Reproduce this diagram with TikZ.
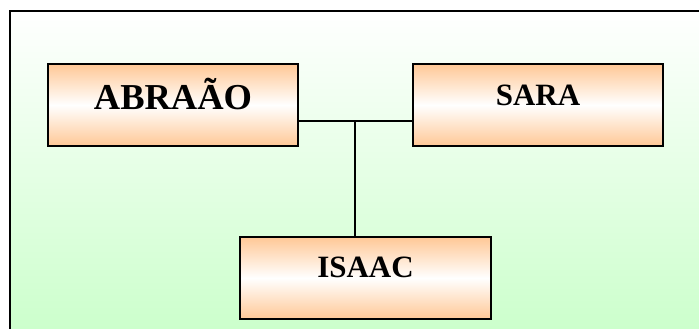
\documentclass[tikz,border=0pt]{standalone}
\usepackage{fontspec}
\setmainfont{Liberation Serif}
\definecolor{boxorange}{RGB}{255,200,150}
\definecolor{bggreen}{RGB}{204,255,204}
\tikzset{
  person/.style={draw=black, line width=1.5pt, minimum width=250pt, minimum height=82pt,
    inner sep=0pt, top color=boxorange, bottom color=boxorange, middle color=white,
    font=\bfseries, text=black},
  link/.style={draw=black, line width=1.3pt}
}
\begin{document}
\begin{tikzpicture}[x=1pt,y=1pt]
\useasboundingbox (0,0) rectangle (699,329);
\clip (0,0) rectangle (699,329);
\fill[white] (0,0) rectangle (699,329);
\fill[top color=white, bottom color=bggreen] (10,0) rectangle (720,318);
\draw[line width=1.7pt] (720,318) -- (10,318) -- (10,-20);
\node[person, font=\fontsize{36.5}{40}\bfseries] (abraao) at (173,224) {\raisebox{-5pt}[0pt][0pt]{ABRAÃO}};
\node[person, font=\fontsize{31}{34}\bfseries] (sara) at (538,224) {\raisebox{-1pt}[0pt][0pt]{SARA}};
\node[person, minimum width=251pt, font=\fontsize{31}{34}\bfseries] (isaac) at (365.5,51) {\raisebox{0pt}[0pt][0pt]{ISAAC}};
\coordinate (j) at (355,208);
\draw[link] (j -| abraao.east) -- (j -| sara.west);
\draw[link] (j) -- (j |- isaac.north);
\end{tikzpicture}
\end{document}
